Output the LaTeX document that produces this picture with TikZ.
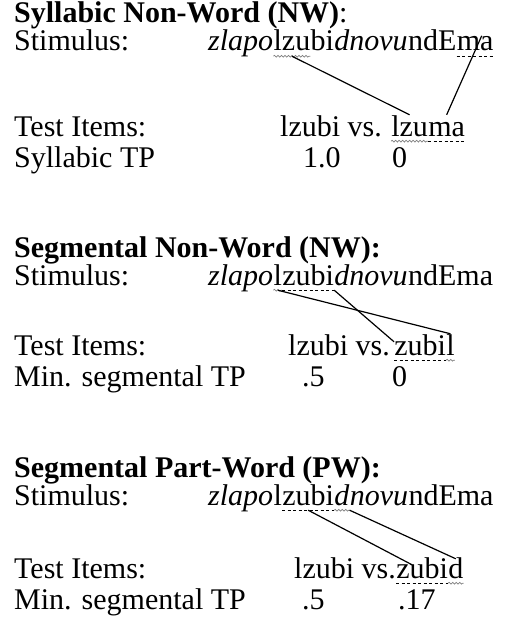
\documentclass[tikz,border=0pt]{standalone}
\usepackage{fontspec}
\setmainfont{Liberation Serif}
\usetikzlibrary{decorations.pathmorphing}

\tikzset{
  txt/.style={inner sep=0pt, anchor=base west, font=\fontsize{30}{35}\selectfont},
  seg/.style={txt, text height=21pt, text depth=5pt},
  segit/.style={seg, font=\fontsize{30}{35}\selectfont\itshape},
  link/.style={draw, line width=1.2pt},
  dashline/.style={draw, dash pattern=on 3pt off 2.5pt, line width=1.2pt},
  squiggle/.style={draw, gray, line width=0.7pt, decorate,
    decoration={snake, amplitude=0.9pt, segment length=3.5pt}},
}

\begin{document}
\begin{tikzpicture}[x=1pt,y=-1pt]
  \useasboundingbox (0,0) rectangle (506,623);

  % Syllabic Non-Word
  \node[txt] (h1) at (14,23)  {\textbf{Syllabic Non-Word (NW)}:};
  \node[txt] (a1) at (14,51)  {Stimulus:};
  \node[txt] (b1) at (14,136) {Test Items:};
  \node[txt] (c1) at (14,167) {Syllabic TP};

  \node[segit] (s1zlapo) at (208,51)           {zlapo};
  \node[seg]   (s1lzu)   at (s1zlapo.base east) {lzu};
  \node[seg]   (s1bi)    at (s1lzu.base east)   {bi};
  \node[segit] (s1dnovu) at (s1bi.base east)    {dnovu};
  \node[seg]   (s1ndE)   at (s1dnovu.base east) {ndE};
  \node[seg]   (s1ma)    at (s1ndE.base east)   {ma};

  \node[seg] (t1vs)  at (280,136)          {lzubi vs.\kern9pt};
  \node[seg] (t1lzu) at (t1vs.base east)   {lzu};
  \node[seg] (t1ma)  at (t1lzu.base east)  {ma};

  \node[txt] (p1a) at (303,167) {1.0};
  \node[txt] (p1b) at (392,167) {0};

  \path[squiggle] (s1lzu.south west) -- (s1lzu.south east);
  \path[dashline] (s1ma.south west) -- (s1ma.south east);
  \path[squiggle] (t1lzu.south west) -- (t1lzu.south east);
  \path[dashline] (t1ma.south west) -- (t1ma.south east);
  \path[link] (s1lzu.south) -- (t1lzu.north);
  \path[link] ([shift={(-12pt,-6pt)}]s1ma.north east) -- (t1ma.north);

  % Segmental Non-Word
  \node[txt] (h2) at (14,257) {\textbf{Segmental Non-Word (NW):}};
  \node[txt] (a2) at (14,285) {Stimulus:};
  \node[txt] (b2) at (14,355) {Test Items:};
  \node[txt] (c2) at (14,386) {Min. segmental TP};

  \node[segit] (s2zlapo) at (208,285)          {zlapo};
  \node[seg]   (s2l)     at (s2zlapo.base east) {l};
  \node[seg]   (s2zubi)  at (s2l.base east)     {zubi};
  \node[segit] (s2dnovu) at (s2zubi.base east)  {dnovu};
  \node[seg]   (s2ndEma) at (s2dnovu.base east) {ndEma};

  \node[seg] (t2vs)   at (288,355)          {lzubi vs.\kern4pt};
  \node[seg] (t2zubi) at (t2vs.base east)   {zubi};
  \node[seg] (t2l)    at (t2zubi.base east) {l};

  \node[txt] (p2a) at (302,386) {.5};
  \node[txt] (p2b) at (392,386) {0};

  \path[squiggle] (s2l.south west) -- (s2l.south east);
  \path[dashline] (s2zubi.south west) -- (s2zubi.south east);
  \path[dashline] (t2zubi.south west) -- (t2zubi.south east);
  \path[squiggle] (t2l.south west) -- (t2l.south east);
  \path[link] (s2l.south) -- (t2l.north);
  \path[link] (s2zubi.south east) -- ([yshift=-8pt]t2zubi.north west);

  % Segmental Part-Word
  \node[txt] (h3) at (14,477) {\textbf{Segmental Part-Word (PW):}};
  \node[txt] (a3) at (14,505) {Stimulus:};
  \node[txt] (b3) at (14,578) {Test Items:};
  \node[txt] (c3) at (14,609) {Min. segmental TP};

  \node[segit] (s3zlapo) at (208,505)          {zlapo};
  \node[seg]   (s3l)     at (s3zlapo.base east) {l};
  \node[seg]   (s3zubi)  at (s3l.base east)     {zubi};
  \node[segit] (s3d)     at (s3zubi.base east)  {d};
  \node[segit] (s3novu)  at (s3d.base east)     {novu};
  \node[seg]   (s3ndEma) at (s3novu.base east)  {ndEma};

  \node[seg] (t3vs)   at (294,578)          {lzubi vs.};
  \node[seg] (t3zubi) at (t3vs.base east)   {zubi};
  \node[seg] (t3d)    at (t3zubi.base east) {d};

  \node[txt] (p3a) at (302,609) {.5};
  \node[txt] (p3b) at (398,609) {.17};

  \path[dashline] (s3zubi.south west) -- (s3zubi.south east);
  \path[squiggle] (s3d.south west) -- (s3d.south east);
  \path[dashline] (t3zubi.south west) -- (t3zubi.south east);
  \path[squiggle] (t3d.south west) -- (t3d.south east);
  \path[link] (s3zubi.south) -- ([xshift=-10pt,yshift=-8pt]t3zubi.north);
  \path[link] (s3d.south east) -- ([yshift=-2pt]t3d.north);
\end{tikzpicture}
\end{document}
